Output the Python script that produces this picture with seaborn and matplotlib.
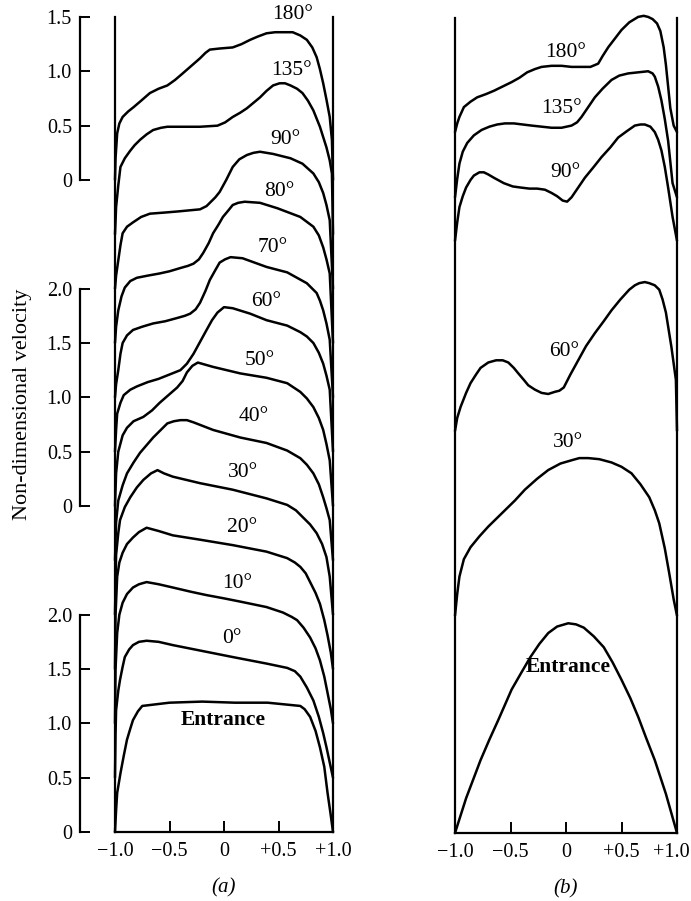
import numpy as np
import pandas as pd
import matplotlib
matplotlib.use("Agg")
import matplotlib.pyplot as plt
import matplotlib.transforms as mtransforms
import seaborn as sns

# ---------------- panel (a): stacked velocity profiles ----------------
a_names = ["Entrance", "0°", "10°", "20°", "30°", "40°", "50°", "60°", "70°", "80°", "90°", "135°", "180°"]
a_offsets = [0.0, 0.5, 1.0, 1.5, 2.0, 2.5, 3.0, 3.5, 4.0, 4.5, 5.0, 5.5, 6.0]

a_x_entr = [-1, -0.99, -0.98, -0.95, -0.92, -0.89, -0.86, -0.835, -0.79, -0.75, -0.5, -0.2, 0.1, 0.4, 0.7, 0.74, 0.79, 0.84, 0.88, 0.92, 0.95, 0.98, 1.0]
a_v_entr = [0, 0.2, 0.36, 0.54, 0.70, 0.85, 0.95, 1.03, 1.11, 1.16, 1.19, 1.20, 1.19, 1.19, 1.16, 1.13, 1.06, 0.93, 0.78, 0.60, 0.36, 0.15, 0]

a_x_0 = [-1, -0.995, -0.99, -0.97, -0.954, -0.93, -0.91, -0.87, -0.835, -0.78, -0.71, -0.6, -0.47, -0.22, 0.08, 0.39, 0.58, 0.65, 0.70, 0.76, 0.82, 0.87, 0.91, 0.94, 0.97, 1.0]
a_v_0 = [0, 0.4, 0.62, 0.80, 0.90, 1.02, 1.11, 1.18, 1.22, 1.25, 1.26, 1.25, 1.22, 1.17, 1.11, 1.05, 1.01, 0.98, 0.93, 0.83, 0.71, 0.56, 0.41, 0.28, 0.14, 0]

a_x_10 = [-1, -0.995, -0.98, -0.96, -0.93, -0.89, -0.835, -0.78, -0.71, -0.6, -0.47, -0.3, -0.16, 0.0, 0.15, 0.39, 0.54, 0.62, 0.67, 0.73, 0.79, 0.84, 0.88, 0.92, 0.95, 0.98, 1.0]
a_v_10 = [0, 0.5, 0.83, 1.0, 1.11, 1.19, 1.25, 1.28, 1.30, 1.28, 1.25, 1.21, 1.18, 1.15, 1.12, 1.07, 1.02, 0.98, 0.95, 0.88, 0.79, 0.69, 0.58, 0.43, 0.28, 0.13, 0]

a_x_20 = [-1, -0.995, -0.98, -0.96, -0.93, -0.89, -0.835, -0.78, -0.71, -0.6, -0.47, -0.22, 0.08, 0.39, 0.58, 0.65, 0.70, 0.75, 0.79, 0.84, 0.88, 0.92, 0.95, 0.98, 1.0]
a_v_20 = [0, 0.5, 0.85, 0.98, 1.07, 1.15, 1.21, 1.26, 1.30, 1.27, 1.23, 1.19, 1.14, 1.08, 1.02, 0.98, 0.94, 0.88, 0.80, 0.70, 0.60, 0.45, 0.31, 0.15, 0]

a_x_30 = [-1, -0.99, -0.97, -0.954, -0.91, -0.86, -0.80, -0.74, -0.67, -0.61, -0.55, -0.47, -0.22, 0.08, 0.39, 0.58, 0.66, 0.72, 0.79, 0.85, 0.90, 0.94, 0.97, 1.0]
a_v_30 = [0, 0.55, 0.75, 0.87, 0.99, 1.08, 1.17, 1.24, 1.30, 1.33, 1.30, 1.27, 1.21, 1.15, 1.07, 1.01, 0.96, 0.90, 0.83, 0.75, 0.65, 0.53, 0.35, 0]

a_x_40 = [-1, -0.99, -0.97, -0.93, -0.89, -0.83, -0.77, -0.71, -0.65, -0.58, -0.52, -0.46, -0.40, -0.34, -0.28, -0.10, 0.15, 0.39, 0.58, 0.70, 0.76, 0.82, 0.87, 0.91, 0.94, 0.97, 1.0]
a_v_40 = [0, 0.35, 0.55, 0.69, 0.80, 0.90, 0.99, 1.06, 1.13, 1.20, 1.26, 1.28, 1.29, 1.29, 1.27, 1.20, 1.13, 1.08, 1.01, 0.94, 0.88, 0.80, 0.70, 0.58, 0.48, 0.37, 0]

a_x_50 = [-1, -0.99, -0.97, -0.93, -0.89, -0.83, -0.74, -0.66, -0.59, -0.51, -0.43, -0.38, -0.34, -0.29, -0.24, -0.17, -0.10, 0.15, 0.39, 0.58, 0.70, 0.76, 0.82, 0.87, 0.91, 0.94, 0.97, 1.0]
a_v_50 = [0, 0.3, 0.5, 0.65, 0.72, 0.78, 0.82, 0.88, 0.95, 1.02, 1.09, 1.15, 1.23, 1.29, 1.32, 1.30, 1.28, 1.22, 1.18, 1.13, 1.05, 0.99, 0.91, 0.81, 0.70, 0.57, 0.42, 0]

a_x_60 = [-1, -0.99, -0.98, -0.95, -0.92, -0.86, -0.80, -0.70, -0.60, -0.50, -0.40, -0.34, -0.28, -0.22, -0.16, -0.11, -0.06, 0.0, 0.08, 0.24, 0.39, 0.58, 0.70, 0.76, 0.82, 0.87, 0.91, 0.94, 0.97, 1.0]
a_v_60 = [0, 0.2, 0.35, 0.45, 0.52, 0.57, 0.60, 0.64, 0.67, 0.71, 0.75, 0.81, 0.90, 1.01, 1.12, 1.21, 1.28, 1.33, 1.32, 1.27, 1.21, 1.16, 1.10, 1.06, 1.00, 0.91, 0.81, 0.70, 0.57, 0]

a_x_70 = [-1, -0.99, -0.97, -0.95, -0.93, -0.89, -0.835, -0.75, -0.65, -0.54, -0.43, -0.36, -0.31, -0.26, -0.22, -0.17, -0.13, -0.08, -0.04, 0.01, 0.06, 0.17, 0.39, 0.58, 0.76, 0.85, 0.88, 0.91, 0.94, 0.97, 1.0]
a_v_70 = [0, 0.12, 0.25, 0.40, 0.50, 0.57, 0.62, 0.65, 0.68, 0.70, 0.73, 0.75, 0.77, 0.81, 0.87, 0.98, 1.08, 1.17, 1.24, 1.27, 1.29, 1.28, 1.20, 1.15, 1.05, 0.96, 0.89, 0.80, 0.68, 0.53, 0]

a_x_80 = [-1, -0.99, -0.97, -0.94, -0.91, -0.86, -0.80, -0.70, -0.59, -0.50, -0.40, -0.33, -0.28, -0.23, -0.19, -0.14, -0.10, -0.05, -0.01, 0.04, 0.08, 0.13, 0.19, 0.33, 0.49, 0.70, 0.82, 0.87, 0.91, 0.94, 0.97, 1.0]
a_v_80 = [0, 0.15, 0.30, 0.43, 0.51, 0.57, 0.60, 0.62, 0.64, 0.66, 0.69, 0.71, 0.73, 0.77, 0.83, 0.92, 1.01, 1.09, 1.16, 1.22, 1.27, 1.29, 1.30, 1.29, 1.24, 1.16, 1.07, 0.99, 0.88, 0.77, 0.64, 0]

a_x_90 = [-1, -0.99, -0.97, -0.95, -0.93, -0.89, -0.835, -0.76, -0.68, -0.55, -0.43, -0.22, -0.16, -0.13, -0.08, -0.04, 0.02, 0.08, 0.14, 0.21, 0.27, 0.33, 0.45, 0.61, 0.72, 0.82, 0.87, 0.91, 0.94, 0.97, 1.0]
a_v_90 = [0, 0.12, 0.26, 0.40, 0.51, 0.57, 0.61, 0.66, 0.69, 0.70, 0.71, 0.73, 0.76, 0.79, 0.84, 0.89, 1.00, 1.12, 1.19, 1.23, 1.25, 1.26, 1.24, 1.20, 1.15, 1.06, 0.98, 0.88, 0.77, 0.63, 0]

a_x_135 = [-1, -0.995, -0.99, -0.97, -0.95, -0.91, -0.86, -0.82, -0.77, -0.71, -0.65, -0.58, -0.52, -0.40, -0.22, -0.06, 0.01, 0.08, 0.15, 0.21, 0.27, 0.33, 0.39, 0.45, 0.51, 0.56, 0.61, 0.67, 0.72, 0.77, 0.82, 0.88, 0.94, 0.97, 0.99, 1.0]
a_v_135 = [0, 0.12, 0.25, 0.45, 0.62, 0.70, 0.77, 0.82, 0.87, 0.92, 0.96, 0.98, 0.99, 0.99, 0.99, 1.00, 1.03, 1.08, 1.12, 1.16, 1.21, 1.26, 1.32, 1.37, 1.39, 1.39, 1.37, 1.34, 1.30, 1.23, 1.14, 0.99, 0.80, 0.68, 0.56, 0]

a_x_180 = [-1, -0.995, -0.98, -0.96, -0.93, -0.88, -0.83, -0.76, -0.68, -0.60, -0.52, -0.45, -0.38, -0.30, -0.22, -0.17, -0.13, -0.04, 0.08, 0.16, 0.24, 0.31, 0.39, 0.47, 0.54, 0.63, 0.70, 0.76, 0.81, 0.85, 0.88, 0.91, 0.94, 0.97, 0.99, 1.0]
a_v_180 = [0, 0.2, 0.43, 0.52, 0.58, 0.63, 0.67, 0.73, 0.80, 0.84, 0.87, 0.92, 0.98, 1.05, 1.12, 1.17, 1.20, 1.21, 1.22, 1.25, 1.29, 1.32, 1.35, 1.36, 1.36, 1.36, 1.33, 1.29, 1.22, 1.13, 1.02, 0.89, 0.74, 0.58, 0.37, 0]

a_profiles = [(a_x_entr, a_v_entr), (a_x_0, a_v_0), (a_x_10, a_v_10), (a_x_20, a_v_20),
              (a_x_30, a_v_30), (a_x_40, a_v_40), (a_x_50, a_v_50), (a_x_60, a_v_60),
              (a_x_70, a_v_70), (a_x_80, a_v_80), (a_x_90, a_v_90), (a_x_135, a_v_135),
              (a_x_180, a_v_180)]

# ---------------- panel (b) ----------------
b_names = ["Entrance", "30°", "60°", "90°", "135°", "180°"]
b_offsets = [0.0, 2.0, 3.7, 5.45, 5.85, 6.45]

b_x_entr = [-1, -0.9, -0.77, -0.69, -0.61, -0.49, -0.40, -0.32, -0.24, -0.16, -0.08, 0.02, 0.09, 0.16, 0.25, 0.34, 0.42, 0.50, 0.58, 0.65, 0.72, 0.80, 0.90, 1.0]
b_v_entr = [0, 0.32, 0.67, 0.86, 1.04, 1.32, 1.48, 1.62, 1.74, 1.84, 1.90, 1.93, 1.92, 1.89, 1.81, 1.71, 1.57, 1.41, 1.24, 1.07, 0.88, 0.67, 0.36, 0]

b_x_30 = [-1, -0.98, -0.96, -0.92, -0.86, -0.78, -0.70, -0.62, -0.55, -0.46, -0.37, -0.26, -0.16, -0.05, 0.05, 0.12, 0.20, 0.30, 0.41, 0.50, 0.59, 0.67, 0.75, 0.80, 0.84, 0.89, 0.93, 0.97, 1.0]
b_v_30 = [0, 0.2, 0.36, 0.52, 0.63, 0.73, 0.82, 0.90, 0.97, 1.06, 1.16, 1.26, 1.34, 1.40, 1.43, 1.45, 1.45, 1.44, 1.41, 1.37, 1.31, 1.21, 1.09, 0.97, 0.85, 0.62, 0.39, 0.15, 0]

b_x_60 = [-1, -0.98, -0.95, -0.90, -0.86, -0.81, -0.77, -0.70, -0.63, -0.57, -0.52, -0.47, -0.43, -0.38, -0.34, -0.28, -0.22, -0.16, -0.10, -0.06, -0.02, 0.04, 0.11, 0.18, 0.26, 0.34, 0.41, 0.49, 0.57, 0.62, 0.66, 0.71, 0.75, 0.80, 0.84, 0.87, 0.90, 0.95, 0.99, 1.0]
b_v_60 = [0, 0.12, 0.22, 0.35, 0.44, 0.52, 0.58, 0.63, 0.65, 0.65, 0.63, 0.58, 0.53, 0.47, 0.42, 0.38, 0.35, 0.34, 0.36, 0.37, 0.40, 0.52, 0.65, 0.78, 0.90, 1.01, 1.11, 1.21, 1.30, 1.34, 1.36, 1.37, 1.36, 1.34, 1.30, 1.21, 1.09, 0.77, 0.47, 0]

b_x_90 = [-1, -0.98, -0.96, -0.93, -0.90, -0.86, -0.83, -0.78, -0.74, -0.70, -0.65, -0.56, -0.48, -0.41, -0.33, -0.26, -0.19, -0.13, -0.08, -0.03, 0.01, 0.05, 0.11, 0.17, 0.25, 0.32, 0.40, 0.47, 0.55, 0.62, 0.67, 0.71, 0.76, 0.80, 0.83, 0.86, 0.89, 0.92, 0.96, 1.0]
b_v_90 = [0, 0.17, 0.31, 0.41, 0.49, 0.56, 0.60, 0.63, 0.63, 0.61, 0.58, 0.53, 0.50, 0.49, 0.48, 0.48, 0.47, 0.44, 0.41, 0.37, 0.36, 0.40, 0.49, 0.58, 0.68, 0.77, 0.86, 0.95, 1.01, 1.06, 1.07, 1.07, 1.05, 1.00, 0.93, 0.83, 0.68, 0.49, 0.22, 0]

b_x_135 = [-1, -0.98, -0.96, -0.93, -0.89, -0.83, -0.76, -0.69, -0.62, -0.55, -0.47, -0.39, -0.31, -0.22, -0.13, -0.04, 0.05, 0.10, 0.14, 0.20, 0.26, 0.33, 0.41, 0.48, 0.56, 0.65, 0.74, 0.78, 0.80, 0.83, 0.86, 0.89, 0.92, 0.96, 1.0]
b_v_135 = [0, 0.17, 0.31, 0.42, 0.50, 0.57, 0.62, 0.65, 0.67, 0.68, 0.68, 0.67, 0.66, 0.65, 0.64, 0.64, 0.66, 0.69, 0.74, 0.83, 0.92, 1.00, 1.08, 1.12, 1.14, 1.15, 1.16, 1.14, 1.11, 1.02, 0.89, 0.72, 0.52, 0.13, 0]

b_x_180 = [-1, -0.98, -0.96, -0.92, -0.86, -0.80, -0.72, -0.65, -0.57, -0.49, -0.42, -0.35, -0.28, -0.22, -0.13, -0.04, 0.05, 0.14, 0.22, 0.29, 0.33, 0.38, 0.44, 0.50, 0.57, 0.65, 0.70, 0.74, 0.78, 0.82, 0.85, 0.88, 0.90, 0.92, 0.94, 0.97, 1.0]
b_v_180 = [0, 0.08, 0.14, 0.23, 0.28, 0.32, 0.35, 0.38, 0.42, 0.46, 0.50, 0.55, 0.58, 0.60, 0.61, 0.61, 0.60, 0.60, 0.60, 0.63, 0.70, 0.78, 0.86, 0.94, 1.01, 1.06, 1.07, 1.06, 1.04, 1.00, 0.93, 0.78, 0.62, 0.42, 0.22, 0.06, 0]

b_profiles = [(b_x_entr, b_v_entr), (b_x_30, b_v_30), (b_x_60, b_v_60),
              (b_x_90, b_v_90), (b_x_135, b_v_135), (b_x_180, b_v_180)]

# axis ticks / labels
x_ticks = [-1.0, -0.5, 0.0, 0.5, 1.0]
x_ticklabels = ["\u22121.0", "\u22120.5", "0", "+0.5", "+1.0"]
y_segment_bases = [a_offsets[0], a_offsets[6], a_offsets[12]]
y_segment_spans = [2.0, 2.0, 1.5]
y_label = "Non-dimensional velocity"

# label anchor points (annotation placement)
a_label_xy = [(-0.01, 1.03), (0.07, 1.78), (0.12, 2.29), (0.17, 2.80), (0.17, 3.31), (0.27, 3.82),
              (0.33, 4.34), (0.39, 4.88), (0.45, 5.38), (0.51, 5.89), (0.56, 6.37), (0.62, 7.01),
              (0.63, 7.52)]
b_label_xy = [(0.02, 1.53), (0.02, 3.59), (-0.02, 4.43), (-0.01, 6.08), (-0.04, 6.67), (0.0, 7.18)]

# ---------------- drawing ----------------
sns.set_style("white")
plt.rcParams["font.family"] = ["Liberation Serif", "DejaVu Serif"]
plt.rcParams["axes.unicode_minus"] = True
for key in ["text.color", "axes.labelcolor", "xtick.color", "ytick.color", "axes.edgecolor"]:
    plt.rcParams[key] = "black"

FS_TICK = 14.5
FS_LAB = 15.5
LW = 1.8

fig = plt.figure(figsize=(6.91, 9.01), dpi=100)
ax_a = fig.add_axes([115 / 691, 69 / 901, 218 / 691, 815 / 901])
ax_b = fig.add_axes([455 / 691, 68 / 901, 222 / 691, 815 / 901])


def draw_panel(ax, profiles, offsets, names, label_xy):
    for (xs, vs), off, name, (lx, ly) in zip(profiles, offsets, names, label_xy):
        df = pd.DataFrame({"x": xs, "level": np.asarray(vs) + off})
        sns.lineplot(data=df, x="x", y="level", ax=ax, color="black", lw=LW,
                     estimator=None, sort=False)
        ln = ax.lines[-1]
        ln.set_clip_on(False)
        ln.set_solid_joinstyle("round")
        ax.text(lx, ly, name, ha="center", va="center", fontsize=FS_LAB, color="black",
                fontweight="bold" if name == "Entrance" else "normal", clip_on=False)
    ax.set_xlim(-1.0, 1.0)
    ax.set_ylim(0, 7.5)
    ax.set_xlabel("")
    ax.set_ylabel("")
    ax.patch.set_visible(False)
    ax.spines["top"].set_visible(False)
    for s in ["left", "right", "bottom"]:
        ax.spines[s].set_visible(True)
        ax.spines[s].set_linewidth(1.6)
        ax.spines[s].set_color("black")
    ax.set_xticks(x_ticks)
    ax.set_xticklabels(x_ticklabels)
    ax.set_yticks([])
    ax.tick_params(axis="x", direction="in", length=8, width=1.4, pad=7,
                   labelsize=FS_TICK, colors="black", bottom=True)


draw_panel(ax_a, a_profiles, a_offsets, a_names, a_label_xy)
draw_panel(ax_b, b_profiles, b_offsets, b_names, b_label_xy)

# keep the right-most tick label of panel (b) inside the figure
last = ax_b.get_xticklabels()[-1]
last.set_transform(last.get_transform() + mtransforms.ScaledTranslation(-6 / 100, 0, fig.dpi_scale_trans))

# segmented y axis for panel (a)
for base, span in zip(y_segment_bases, y_segment_spans):
    sa = fig.add_axes(ax_a.get_position().bounds)
    sa.set_ylim(ax_a.get_ylim())
    sa.set_xlim(ax_a.get_xlim())
    sa.patch.set_visible(False)
    for s in ["top", "right", "bottom"]:
        sa.spines[s].set_visible(False)
    sa.spines["left"].set_visible(True)
    sa.spines["left"].set_color("black")
    sa.spines["left"].set_linewidth(1.6)
    sa.spines["left"].set_position(("outward", 25))
    sa.spines["left"].set_bounds(base, base + span)
    vals = np.arange(0, span + 0.01, 0.5)
    sa.set_yticks(base + vals)
    sa.set_yticklabels(["0" if v == 0 else f"{v:.1f}" for v in vals])
    sa.set_xticks([])
    sa.tick_params(axis="y", direction="in", length=7, width=1.4, pad=6,
                   labelsize=FS_TICK, colors="black", left=True)

fig.text(23 / 691, 1 - 404 / 901, y_label, rotation=90, ha="center", va="center",
         fontsize=16, color="black")

for ax, tag in [(ax_a, "(a)"), (ax_b, "(b)")]:
    ax.annotate(tag, xy=(0.5, 0), xycoords="axes fraction", xytext=(0, -40),
                textcoords="offset points", ha="center", va="center",
                fontsize=15, fontstyle="italic", color="black")

fig.savefig("out.png", dpi=100, facecolor="white")
